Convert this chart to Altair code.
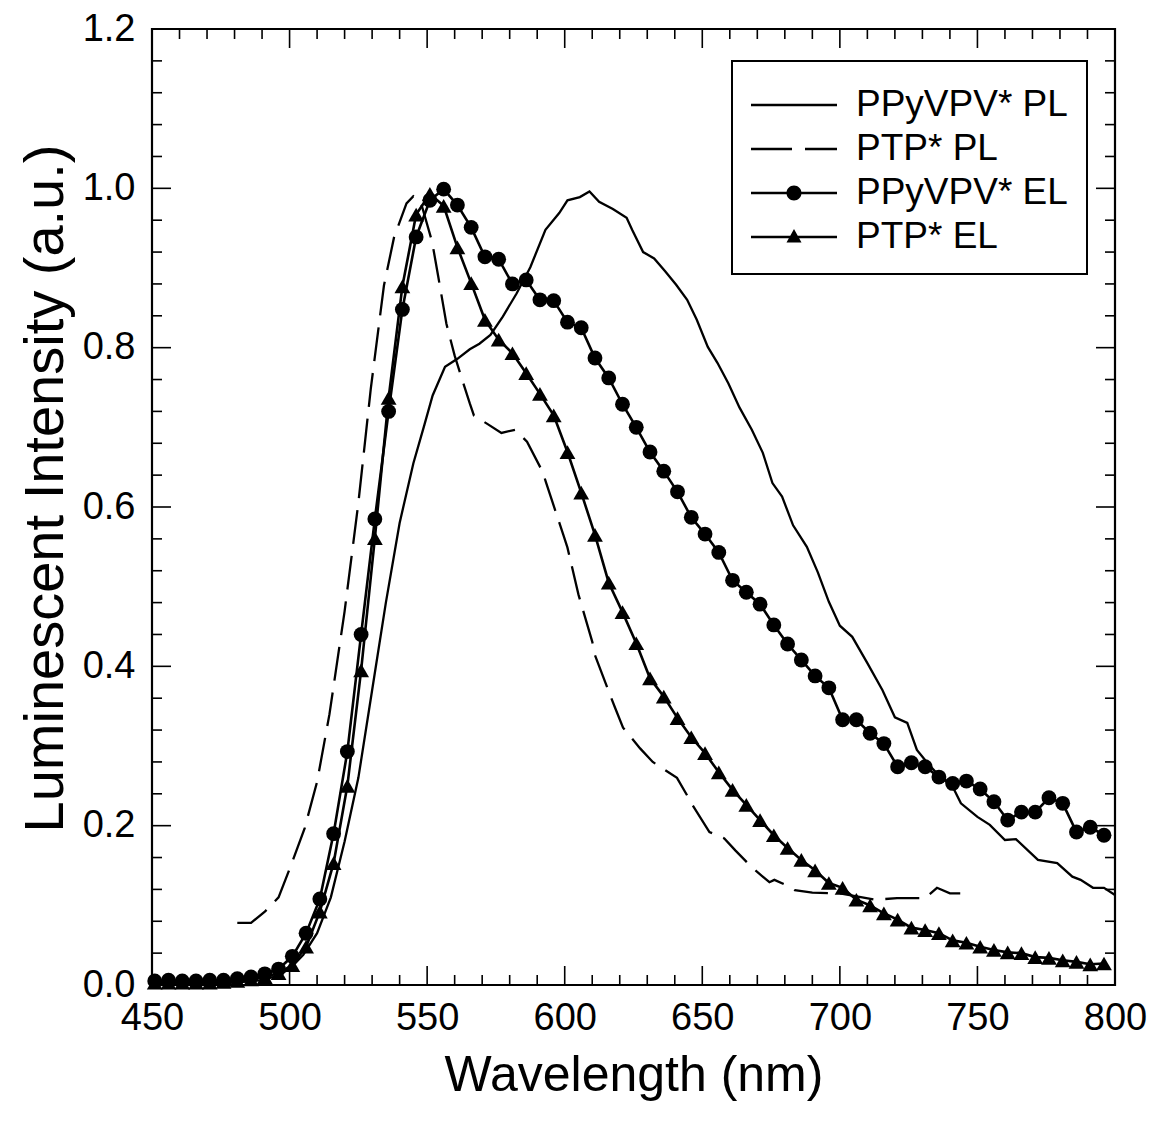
import altair as alt
import pandas as pd

# ---------------- data ----------------
series_names = ["PPyVPV* PL", "PTP* PL", "PPyVPV* EL", "PTP* EL"]

ppy_pl_nm = [450, 470, 480, 490, 495, 500, 505, 510, 515, 520, 525, 530, 535, 540, 545,
             549, 552, 556.5, 561, 565.5, 569, 573, 577.5, 582.5, 587.5, 593, 598, 601,
             605.5, 609, 612.5, 617.5, 622.5, 624.5, 628.5, 632.5, 636.5, 640.5, 644.5,
             648, 652, 655.5, 659.5, 663.5, 668, 672, 675.5, 679, 683, 688, 692, 696, 700,
             704.5, 710, 715.5, 720, 724.5, 728, 732, 736.5, 741, 744, 750, 754.5, 760,
             764, 772, 779, 784.5, 787.5, 792, 796, 800]
ppy_pl_val = [0.000, 0.001, 0.003, 0.006, 0.011, 0.020, 0.038, 0.065, 0.110, 0.180, 0.260,
              0.370, 0.480, 0.580, 0.655, 0.703, 0.740, 0.776, 0.786, 0.798, 0.805, 0.816,
              0.839, 0.868, 0.901, 0.948, 0.969, 0.985, 0.989, 0.996, 0.983, 0.974, 0.963,
              0.948, 0.920, 0.912, 0.896, 0.879, 0.860, 0.835, 0.801, 0.781, 0.755, 0.725,
              0.697, 0.668, 0.630, 0.613, 0.577, 0.550, 0.518, 0.481, 0.451, 0.437, 0.404,
              0.370, 0.336, 0.329, 0.295, 0.278, 0.261, 0.249, 0.228, 0.211, 0.201, 0.182,
              0.183, 0.157, 0.153, 0.136, 0.132, 0.122, 0.122, 0.113]

ptp_pl_nm = [481, 486, 491, 496, 500.5, 505.5, 510, 514.5, 520, 525, 529.5, 534.3, 538,
             542.5, 545, 547.5, 551.8, 554, 557, 560, 563, 565.5, 567, 572, 577, 582, 586.3,
             592, 593.2, 595, 599.5, 601, 605, 610, 611, 616.5, 618.3, 621.2, 627.4, 632,
             640.8, 645, 646.4, 652.6, 658, 662, 668.2, 674.4, 676.2, 680.7, 683.6, 690,
             700, 712.8, 720.8, 731, 735.3, 740, 747]
ptp_pl_val = [0.078, 0.078, 0.092, 0.110, 0.150, 0.197, 0.255, 0.340, 0.469, 0.605, 0.748,
              0.878, 0.939, 0.981, 0.990, 0.985, 0.933, 0.890, 0.830, 0.790, 0.757, 0.730,
              0.715, 0.704, 0.693, 0.697, 0.682, 0.644, 0.631, 0.612, 0.565, 0.549, 0.490,
              0.431, 0.414, 0.364, 0.348, 0.323, 0.297, 0.280, 0.260, 0.235, 0.226, 0.192,
              0.184, 0.169, 0.147, 0.129, 0.132, 0.125, 0.119, 0.116, 0.115, 0.107, 0.109,
              0.109, 0.122, 0.115, 0.115]

el_nm = [451, 456, 461, 466, 471, 476, 481, 486, 491, 496, 501, 506, 511, 516, 521, 526,
         531, 536, 541, 546, 551, 556, 561, 566, 571, 576, 581, 586, 591, 596, 601, 606,
         611, 616, 621, 626, 631, 636, 641, 646, 651, 656, 661, 666, 671, 676, 681, 686,
         691, 696, 701, 706, 711, 716, 721, 726, 731, 736, 741, 746, 751, 756, 761, 766,
         771, 776, 781, 786, 791, 796]
ppy_el_val = [0.005, 0.006, 0.005, 0.005, 0.006, 0.006, 0.008, 0.010, 0.014, 0.020, 0.036,
              0.065, 0.108, 0.190, 0.293, 0.440, 0.585, 0.720, 0.848, 0.939, 0.985, 0.999,
              0.979, 0.951, 0.914, 0.911, 0.880, 0.885, 0.860, 0.859, 0.832, 0.825, 0.787,
              0.762, 0.729, 0.700, 0.669, 0.645, 0.619, 0.587, 0.566, 0.543, 0.508, 0.493,
              0.478, 0.452, 0.428, 0.408, 0.388, 0.373, 0.333, 0.333, 0.316, 0.303, 0.274,
              0.279, 0.274, 0.261, 0.253, 0.256, 0.246, 0.230, 0.207, 0.217, 0.217, 0.235,
              0.228, 0.192, 0.198, 0.188]
ptp_el_val = [0.003, 0.003, 0.003, 0.003, 0.003, 0.004, 0.005, 0.007, 0.010, 0.015, 0.025,
              0.048, 0.092, 0.153, 0.250, 0.395, 0.561, 0.737, 0.877, 0.967, 0.993, 0.978,
              0.926, 0.881, 0.835, 0.810, 0.793, 0.768, 0.742, 0.715, 0.669, 0.618, 0.565,
              0.505, 0.468, 0.429, 0.385, 0.362, 0.335, 0.311, 0.291, 0.267, 0.245, 0.226,
              0.207, 0.188, 0.172, 0.157, 0.144, 0.128, 0.122, 0.107, 0.100, 0.090, 0.082,
              0.072, 0.069, 0.065, 0.056, 0.053, 0.048, 0.044, 0.041, 0.040, 0.035, 0.034,
              0.031, 0.029, 0.026, 0.027]

x_major = [450, 500, 550, 600, 650, 700, 750, 800]
x_minor = [v for v in range(450, 801, 10) if v % 50 != 0]
y_major = [0.0, 0.2, 0.4, 0.6, 0.8, 1.0, 1.2]
y_minor = [round(i * 0.04, 2) for i in range(31) if i % 5 != 0]

# ---------------- layout ----------------
W, H = 963, 956
FONT = "Liberation Sans"
MAJ, MIN = 19, 10

x_scale = alt.Scale(domain=[450, 800], nice=False, zero=False)
y_scale = alt.Scale(domain=[0, 1.2], nice=False, zero=False)

X = alt.X("nm:Q", scale=x_scale,
          axis=alt.Axis(values=x_major, title="Wavelength (nm)", format="d",
                        labelPadding=14, labelFlush=False, titleY=105,
                        titleBaseline="alphabetic", titleFontSize=50))
Y = alt.Y("v:Q", scale=y_scale,
          axis=alt.Axis(values=y_major, format=".1f", title="Luminescent Intensity (a.u.)",
                        labelPadding=17, labelFlush=False, titleX=-90, titleY=459,
                        titleAngle=-90, titleAlign="center", titleBaseline="alphabetic",
                        titleFontSize=56))


def frame(nm, val):
    return pd.DataFrame({"nm": nm, "v": val})


ppy_pl = alt.Chart(frame(ppy_pl_nm, ppy_pl_val)).mark_line(
    color="black", strokeWidth=2.3).encode(x=X, y=Y)
ptp_pl = alt.Chart(frame(ptp_pl_nm, ptp_pl_val)).mark_line(
    color="black", strokeWidth=2.3, strokeDash=[34, 12]).encode(x=X, y=Y)

ppy_el_df = frame(el_nm, ppy_el_val)
ptp_el_df = frame(el_nm, ptp_el_val)
ppy_el_line = alt.Chart(ppy_el_df).mark_line(color="black", strokeWidth=2.6).encode(x=X, y=Y)
ppy_el_pts = alt.Chart(ppy_el_df).mark_point(
    shape="circle", filled=True, color="black", size=220, opacity=1).encode(x=X, y=Y)
ptp_el_line = alt.Chart(ptp_el_df).mark_line(color="black", strokeWidth=2.6).encode(x=X, y=Y)
ptp_el_pts = alt.Chart(ptp_el_df).mark_point(
    shape="triangle-up", filled=True, color="black", size=250, opacity=1).encode(x=X, y=Y)

# legend: each symbol is a filled path (thin bar = line, plus its marker)
BAR = "M-1.72,-0.05H1.72V0.05H-1.72Z"
legend_paths = [
    BAR,
    "M-1.72,-0.05H-0.08V0.05H-1.72ZM0.44,-0.05H1.72V0.05H0.44Z",
    BAR + "M-0.3,0A0.3,0.3,0,1,1,0.3,0A0.3,0.3,0,1,1,-0.3,0Z",
    BAR + "M-0.3,0.22L0,-0.32L0.3,0.22Z",
]
legend_layer = alt.Chart(pd.DataFrame({"series": series_names})).transform_filter(
    "false"
).mark_point(filled=True, color="black", opacity=1).encode(
    shape=alt.Shape("series:N",
                    scale=alt.Scale(domain=series_names, range=legend_paths),
                    sort=series_names,
                    legend=alt.Legend(title=None, orient="none", legendX=580, legendY=32,
                                      strokeColor="black", padding=19, rowPadding=1,
                                      symbolSize=2500, symbolOffset=18,
                                      symbolStrokeWidth=0, symbolFillColor="black",
                                      symbolOpacity=1, labelFontSize=37, labelFont=FONT,
                                      labelColor="black", labelOffset=37, labelLimit=400))
)

# inward tick marks on all four sides
def xticks(vals, length):
    d = pd.DataFrame({"nm": vals})
    bottom = alt.Chart(d).mark_rule(color="black", strokeWidth=1.6).encode(
        x=X, y=alt.value(H), y2=alt.value(H - length))
    top = alt.Chart(d).mark_rule(color="black", strokeWidth=1.6).encode(
        x=X, y=alt.value(0), y2=alt.value(length))
    return [bottom, top]


def yticks(vals, length):
    d = pd.DataFrame({"v": vals})
    left = alt.Chart(d).mark_rule(color="black", strokeWidth=1.6).encode(
        y=Y, x=alt.value(0), x2=alt.value(length))
    right = alt.Chart(d).mark_rule(color="black", strokeWidth=1.6).encode(
        y=Y, x=alt.value(W), x2=alt.value(W - length))
    return [left, right]


tick_layers = (xticks(x_major, MAJ) + xticks(x_minor, MIN)
               + yticks(y_major, MAJ) + yticks(y_minor, MIN))

chart = alt.layer(
    *tick_layers, ppy_pl, ptp_pl, ppy_el_line, ptp_el_line, ppy_el_pts, ptp_el_pts,
    legend_layer
).properties(
    width=W, height=H,
    autosize=alt.AutoSizeParams(type="none"),
    padding={"left": 144, "top": 21, "right": 32, "bottom": 134},
    background="white",
).configure_view(
    stroke="black", strokeWidth=2.2
).configure_axis(
    grid=False, ticks=False, domain=False,
    labelFont=FONT, labelFontSize=38, labelColor="black",
    titleFont=FONT, titleColor="black", titleFontWeight="normal",
)

try:
    chart.configure_legend(strokeWidth=2).save(
        "out.html", embed_options={"renderer": "svg", "actions": False})
except Exception:
    chart.save("out.html", embed_options={"renderer": "svg", "actions": False})
